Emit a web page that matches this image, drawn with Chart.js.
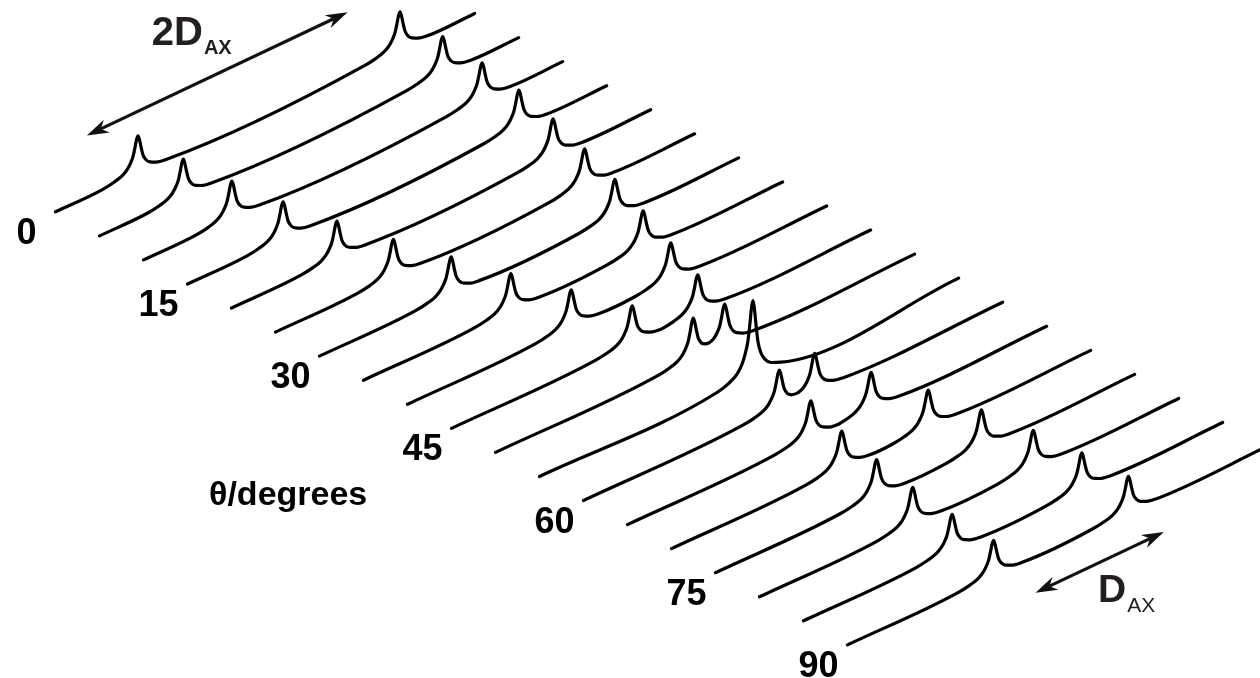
<!DOCTYPE html>
<html>
<head>
<meta charset="utf-8">
<script src="https://cdn.jsdelivr.net/npm/chart.js@4/dist/chart.umd.min.js"></script>
<style>
  html, body { margin: 0; padding: 0; background: #fff; }
  #wrap { width: 1260px; height: 678px; }
</style>
</head>
<body>
<div id="wrap"><canvas id="stack" width="1260" height="678"></canvas></div>
<script>
// one spectrum per tilt angle
const thetaDeg = [0, 5, 10, 15, 20, 25, 30, 35, 40, 45, 50, 55, 60, 65, 70, 75, 80, 85, 90];

// horn-to-horn splitting, in units of D_AX
const hornSplitting = [2.00, 1.98, 1.91, 1.80, 1.65, 1.46, 1.25, 1.01, 0.76, 0.50, 0.24, 0.00,
                       0.27, 0.46, 0.66, 0.80, 0.92, 0.99, 1.03];

// relative height of each horn
const hornIntensity = [1.0, 1.0, 1.0, 1.0, 1.0, 1.0, 1.0, 1.0, 1.0, 1.0, 1.08, 1.01,
                       1.02, 1.0, 1.0, 1.0, 1.0, 0.98, 0.96];

// angles that get a tick label
const tickLabels = [0, 15, 30, 45, 60, 75, 90];

// shape of a single horn: offset (D_AX units) and relative level
const hornShapeOffset = [-0.275, -0.183, -0.122, -0.084, -0.061, -0.038, -0.023, -0.011, 0,
                          0.011, 0.023, 0.038, 0.061, 0.092, 0.137, 0.214];
const hornShapeLevel  = [0, 0.05, 0.12, 0.22, 0.33, 0.5, 0.72, 0.92, 1,
                         0.88, 0.66, 0.42, 0.25, 0.14, 0.06, 0];

// frequency span of every trace (D_AX units)
const freqRange = [-1.63, 1.57];

// the two scale arrows: trace position and frequency span
const arrow2D = { k: -1.37, from: -0.93, to: 1.06 };
const arrowD  = { k: 18.82, from: -0.47, to: 0.51 };

// oblique projection of (trace index, frequency, intensity) onto the page
const ORIGIN_X = 269, ORIGIN_Y = 110.8;
const STEP_X = 44, STEP_Y = 24.06;
const DAX_PX = 131, SLOPE = 0.473, HORN_PX = 37;

function project(k, nu, inten) {
    return {
        x: ORIGIN_X + k * STEP_X + nu * DAX_PX,
        y: ORIGIN_Y + k * STEP_Y - nu * DAX_PX * SLOPE - inten * HORN_PX
    };
}

function hornLevel(d) {
    const n = hornShapeOffset.length;
    if (d <= hornShapeOffset[0] || d >= hornShapeOffset[n - 1]) return 0;
    for (let i = 1; i < n; i++) {
        if (d <= hornShapeOffset[i]) {
            const a = hornShapeOffset[i - 1], b = hornShapeOffset[i];
            const t = (d - a) / (b - a);
            return hornShapeLevel[i - 1] + t * (hornShapeLevel[i] - hornShapeLevel[i - 1]);
        }
    }
    return 0;
}

function buildTrace(k) {
    const horns = [-hornSplitting[k] / 2, hornSplitting[k] / 2];
    const nus = new Set([freqRange[0], freqRange[1]]);
    horns.forEach(h => hornShapeOffset.forEach(o => nus.add(+(h + o).toFixed(4))));
    return [...nus].sort((a, b) => a - b).map(nu => {
        let inten = 0;
        horns.forEach(h => { inten += hornIntensity[k] * hornLevel(nu - h); });
        return project(k, nu, inten);
    });
}

const datasets = thetaDeg.map((theta, k) => ({
    label: theta + '°',
    data: buildTrace(k),
    borderColor: '#000',
    borderWidth: 3.2,
    borderJoinStyle: 'round',
    borderCapStyle: 'round',
    pointRadius: 0,
    fill: false,
    cubicInterpolationMode: 'monotone'
}));

const FONT = '"Liberation Sans", Arial, Helvetica, sans-serif';

function drawArrow(ctx, a, b) {
    const dx = b[0] - a[0], dy = b[1] - a[1];
    const len = Math.hypot(dx, dy);
    const ux = dx / len, uy = dy / len;
    const L = 22, W = 7;
    ctx.beginPath();
    ctx.moveTo(a[0] + ux * L * 0.7, a[1] + uy * L * 0.7);
    ctx.lineTo(b[0] - ux * L * 0.7, b[1] - uy * L * 0.7);
    ctx.lineWidth = 3.2;
    ctx.stroke();
    [[b, ux, uy], [a, -ux, -uy]].forEach(([tip, vx, vy]) => {
        ctx.beginPath();
        ctx.moveTo(tip[0], tip[1]);
        ctx.lineTo(tip[0] - vx * L - vy * W, tip[1] - vy * L + vx * W);
        ctx.lineTo(tip[0] - vx * L * 0.7, tip[1] - vy * L * 0.7);
        ctx.lineTo(tip[0] - vx * L + vy * W, tip[1] - vy * L - vx * W);
        ctx.closePath();
        ctx.fill();
    });
}

function drawSubLabel(ctx, main, sub, cx, base, dSub, mainFont, subFont) {
    ctx.font = mainFont;
    const wm = ctx.measureText(main).width;
    ctx.font = subFont;
    const ws = ctx.measureText(sub).width;
    const x0 = cx - (wm + ws + 1) / 2;
    ctx.textAlign = 'left';
    ctx.textBaseline = 'alphabetic';
    ctx.font = mainFont;
    ctx.fillText(main, x0, base);
    ctx.font = subFont;
    ctx.fillText(sub, x0 + wm + 1, base + dSub);
}

const decorations = {
    id: 'decorations',
    afterDatasetsDraw(chart) {
        const { ctx, scales: { x, y } } = chart;
        const toPx = (k, nu) => {
            const p = project(k, nu, 0);
            return [x.getPixelForValue(p.x), y.getPixelForValue(p.y)];
        };
        ctx.save();

        // angle tick labels next to the start of every third trace
        ctx.fillStyle = '#000';
        ctx.font = 'bold 36px ' + FONT;
        ctx.textAlign = 'center';
        ctx.textBaseline = 'alphabetic';
        tickLabels.forEach(t => {
            const k = thetaDeg.indexOf(t);
            const s = toPx(k, freqRange[0]);
            ctx.fillText(String(t), s[0] - 29, s[1] + 32);
        });

        // axis title
        const tp = toPx(8.98, -2.87);
        ctx.font = 'bold 34px ' + FONT;
        ctx.fillText('θ/degrees', tp[0], tp[1]);

        // scale arrows
        ctx.strokeStyle = '#111';
        ctx.fillStyle = '#111';
        const a1 = toPx(arrow2D.k, arrow2D.from), b1 = toPx(arrow2D.k, arrow2D.to);
        const a2 = toPx(arrowD.k, arrowD.from), b2 = toPx(arrowD.k, arrowD.to);
        drawArrow(ctx, a1, b1);
        drawArrow(ctx, a2, b2);

        ctx.fillStyle = '#231f20';
        const m1 = [(a1[0] + b1[0]) / 2, (a1[1] + b1[1]) / 2];
        drawSubLabel(ctx, '2D', 'AX', m1[0] - 25.5, m1[1] - 29, 9,
            'bold 40px ' + FONT, 'bold 20px ' + FONT);
        const m2 = [(a2[0] + b2[0]) / 2, (a2[1] + b2[1]) / 2];
        drawSubLabel(ctx, 'D', 'AX', m2[0] + 27, m2[1] + 39.5, 10,
            'bold 39px ' + FONT, '21px ' + FONT);

        ctx.restore();
    }
};

new Chart(document.getElementById('stack').getContext('2d'), {
    type: 'line',
    data: { datasets: datasets },
    options: {
        responsive: false,
        animation: false,
        layout: { padding: 0 },
        plugins: {
            legend: { display: false },
            tooltip: { enabled: false }
        },
        scales: {
            x: { type: 'linear', min: 0, max: 1260, display: false },
            y: { type: 'linear', min: 0, max: 678, reverse: true, display: false }
        }
    },
    plugins: [decorations]
});
</script>
</body>
</html>
